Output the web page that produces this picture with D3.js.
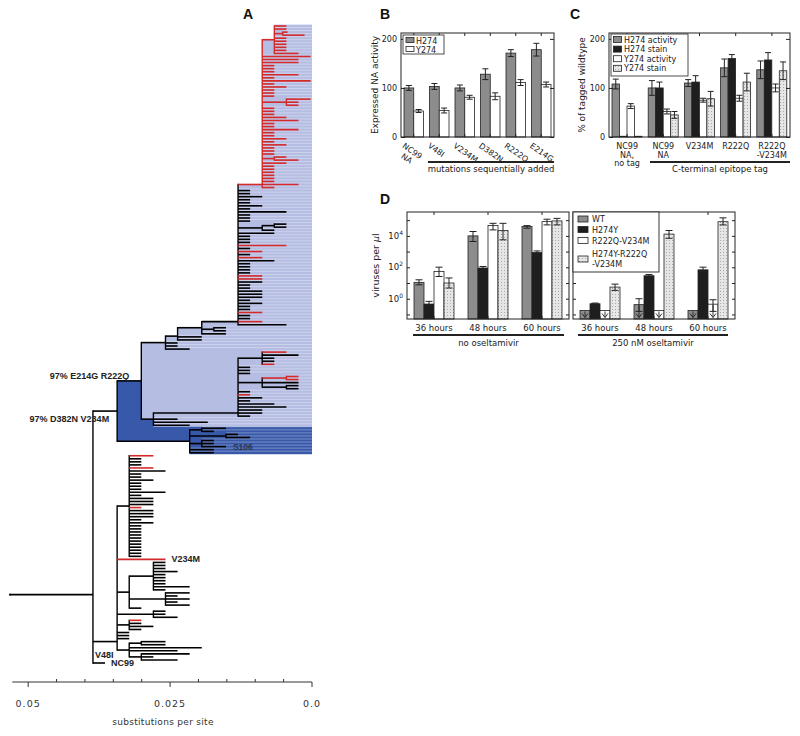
<!DOCTYPE html>
<html><head><meta charset="utf-8">
<script src="https://cdn.jsdelivr.net/npm/d3@7"></script>
<style>body{margin:0;background:#fff}svg{display:block;background:#fff}</style>
</head><body>
<svg id="c" width="800" height="736"></svg>
<script>
// ================= DATA =================
// ---- Panel A: phylogenetic tree ----
// branch lengths in steps of STEP substitutions/site; a string ending in "r" = red leaf
const STEP = 0.00213;
const ROOT_POS = 0.0532;              // root position on the substitutions axis
const axisMajor = [0.05, 0.025, 0.0];
const axisMinor = [0.045, 0.04, 0.035, 0.03, 0.02, 0.015, 0.01, 0.005];

const cladeT = {b:1, red:true, c:["1r","1r",{b:0.7,red:true,c:["0.4r","1.8r"]},"1r","1r","1r","1r","1r","2r"]};
const cladeR = {b:2, red:true, lad:true, c:[cladeT,"4r","3r","3r","1r","1r","1r","3r","1r","4r","1r","2r","1r","1r","1r",
  {b:2,red:true,c:["2r","1r","1r"]},"1r","1r","1r","2r","3r","1r","1r","3r","1r","1r","2r","1r","2r","1r","1r","1r",
  {b:1,red:true,c:["1r","2r"]},"2r","1r","1r","1r","1r","1r","1r","3r","1r"]};
const cladeM = {b:3, lad:true, c:[cladeR,1,1,2,1,1,2,1,4,1,1,1,{b:2,c:[{b:1,c:[1,1]},1]},3,1,1,1,"4r",1,"2r",1,"2r",3,
  1,1,1,1,"2r","2r",2,1,1,2,2,2,1,2,1,1,"2r",1,1,"2r",4]};
const cladeN202 = {b:2, c:[cladeM,{b:1,c:[1,1]},2]};
const cladeN178 = {b:1, lad:true, c:[cladeN202,2,2]};
const cladeN166 = {b:2, c:[cladeN178,1,1,2]};
const cladeQ = {b:7, lad:true, c:[{b:2,c:["2r",3,1,1,"1r"]},1,1,1,{b:2,c:[{b:2,red:true,c:["1r","1r"]},3,{b:2,c:[1,1]}]},
  1,"1r",2,1,3,4,2,2,1]};
const cladeN153 = {b:1, c:[cladeQ,2,4.5,3]};
const cladeL = {b:2, shade:"light", lab:"97% E214G R222Q", c:[cladeN166,cladeN153]};
const cladeS = {b:6, c:[{b:1,c:[2,1]},{b:3,c:[1,2]},{b:1,c:[1,1,{b:2,lab:"S106"}]},2,2]};
const cladeD = {b:2, shade:"dark", lab:"97% D382N V234M", c:[cladeL,cladeS]};
const cladeC1 = {b:1, c:["2r",1,1,1,"2r",3,1,1,2,1,1,1,3,1,2,2,2,"1r",2,2,2,1,2,1,1,1,1,1,1,1,1,1,1,1]};
const cladeC2 = {b:1, c:[{b:2,c:[1,1,1,2,1,1,1,1,3,1]},{b:3,c:[2,1,2,1,2]},1]};
const cladeC3 = {b:3, c:[1,1,2]};
const cladeC4 = {b:1, c:["1r",1,2,1]};
const cladeC5 = {b:1, c:[{b:1,c:[2,2]},6,4,{b:1,c:[4,1,3]}]};
const cladeB = {b:2, lad:true, c:[cladeC1,{b:4,red:true,lab:"V234M"},cladeC2,cladeC3,cladeC4,1,1,1,cladeC5]};
const treeRoot = {b:0, c:[{b:6.86, lad:true, c:[cladeD,cladeB,{b:1,lab:"NC99"}]}]};

// ---- Panel B ----
const bGroups = ["NC99 NA","V48I","V234M","D382N","R222Q","E214G"];
const bLabels = [["NC99","NA"],["V48I"],["V234M"],["D382N"],["R222Q"],["E214G"]];
const bSeries = ["H274","Y274"];
const bH274 = [100,103,100,128,171,178];
const bH274err = [5,6,6,11,7,13];
const bY274 = [53,54,81,83,111,107];
const bY274err = [3,5,4,7,6,5];
const bTicks = [0,100,200];

// ---- Panel C ----
const cGroups = ["NC99 NA, no tag","NC99 NA","V234M","R222Q","R222Q-V234M"];
const cLabels = [["NC99","NA,","no tag"],["NC99","NA"],["V234M"],["R222Q"],["R222Q","-V234M"]];
const cSeries = ["H274 activity","H274 stain","Y274 activity","Y274 stain"];
const cH274act = [108,100,110,141,137];
const cH274actErr = [10,15,7,18,18];
const cH274stain = [1.5,100,112,160,157];
const cH274stainErr = [0,12,13,8,15];
const cY274act = [63,52,75,79,100];
const cY274actErr = [5,5,4,6,8];
const cY274stain = [1.5,45,78,112,135];
const cY274stainErr = [0,7,15,18,18];
const cTicks = [0,100,200];

// ---- Panel D ----
const dTimes = ["36 hours","48 hours","60 hours"];
const dSeries = ["WT","H274Y","R222Q-V234M","H274Y-R222Q-V234M"];
const dLegend = [["WT"],["H274Y"],["R222Q-V234M"],["H274Y-R222Q","-V234M"]];
const noWT = [11, 1.0e4, 3.9e4];
const noWTerr = [[7.7,16],[4.4e3,1.9e4],[3.1e4,4.5e4]];
const noH274Y = [0.46, 90, 870];
const noH274Yerr = [[0.33,0.68],[69,113],[720,1100]];
const noRV = [55, 4.6e4, 8.1e4];
const noRVerr = [[26,102],[2.4e4,6.3e4],[5e4,1.15e5]];
const noHRV = [10, 2.2e4, 9.0e4];
const noHRVerr = [[4.8,21],[5.6e3,6.3e4],[5e4,1.3e5]];
const drWT = [0.18, 0.42, 0.18];
const drWTerr = [null,[0.157,1.0],null];
const drH274Y = [0.48, 29, 69];
const drH274Yerr = [[0.44,0.53],[24,35],[54,102]];
const drRV = [0.18, 0.18, 0.45];
const drRVerr = [null,null,[0.157,0.86]];
const drHRV = [5.5, 1.3e4, 8.0e4];
const drHRVerr = [[3.4,8.5],[7e3,2.2e4],[5e4,1.4e5]];
const drBelowLimit = [[true,true,true],[false,false,false],[true,true,true],[false,false,false]];
const dDecades = [0.1,1,10,100,1e3,1e4,1e5];
const dLabeled = [[1,"0"],[100,"2"],[1e4,"4"]];

// ================= DRAWING =================
const svg = d3.select('#c');
const FONT = "'DejaVu Sans', sans-serif";
const ARIAL = "'Liberation Sans', Arial, sans-serif";
const GRAY = '#8c8c8c', BLACKBAR = '#1e1e1e', RED = '#d42a2a';
const LIGHT = '#b5bde3', DARK = '#3859aa';

const defs = svg.append('defs');
const pat = defs.append('pattern').attr('id','dots').attr('width',3).attr('height',3).attr('patternUnits','userSpaceOnUse');
pat.append('rect').attr('width',3).attr('height',3).attr('fill','#e6e6e6');
pat.append('rect').attr('width',1).attr('height',1).attr('fill','#a8a8a8');

function panelLetter(t,x,y){
  svg.append('text').attr('x',x).attr('y',y).attr('font-family',ARIAL).attr('font-weight','bold')
    .attr('font-size',14).attr('fill','#111').text(t);
}
function errBar(g,cx,y1,y2,cw){
  g.append('line').attr('x1',cx).attr('x2',cx).attr('y1',y1).attr('y2',y2).attr('stroke','#222').attr('stroke-width',1);
  [y1,y2].forEach(yy=>g.append('line').attr('x1',cx-cw/2).attr('x2',cx+cw/2).attr('y1',yy).attr('y2',yy)
    .attr('stroke','#222').attr('stroke-width',1));
}
function styleAxis(sel){
  sel.select('.domain').remove();
  sel.selectAll('line').attr('stroke','#222');
  sel.selectAll('text').attr('font-family',FONT).attr('font-size',8).attr('fill','#222');
}
function frame(g,L,T,R,B){
  g.append('rect').attr('x',L).attr('y',T).attr('width',R-L).attr('height',B-T)
   .attr('fill','none').attr('stroke','#222').attr('stroke-width',1);
}
function underline(g,x1,x2,y,label,ty){
  g.append('line').attr('x1',x1).attr('x2',x2).attr('y1',y).attr('y2',y).attr('stroke','#222').attr('stroke-width',2);
  g.append('text').attr('x',(x1+x2)/2).attr('y',ty).attr('text-anchor','middle').attr('font-family',FONT)
   .attr('font-size',8.5).attr('fill','#222').text(label);
}

// ---------- Panel A ----------
(function(){
  const g = svg.append('g');
  function norm(n){
    if (typeof n === 'number') return {len:n, red:false, kids:[]};
    if (typeof n === 'string') return {len:parseFloat(n), red:n.endsWith('r'), kids:[]};
    return {len:n.b, red:!!n.red, lad:!!n.lad, lab:n.lab, shade:n.shade, kids:(n.c||[]).map(norm)};
  }
  const root = norm(treeRoot);
  const leaves = [], nodes = [];
  (function walk(n,d,p,shade){
    n.depth = d + n.len*STEP; n.parent = p; n.shadeC = n.shade || shade;
    nodes.push(n); if(!n.kids.length) leaves.push(n);
    n.kids.forEach(k=>walk(k,n.depth,n,n.shadeC));
  })(root,0,null,null);
  const rowY = d3.scaleLinear().domain([0,leaves.length-1]).range([26,663]);
  const rowH = rowY(1)-rowY(0);
  leaves.forEach((l,i)=>l.y=rowY(i));
  (function setY(n){
    if(!n.kids.length) return n.y;
    n.kids.forEach(setY);
    if(n.lad){ let y=n.kids[0].y; for(let i=1;i<n.kids.length;i++) y=(y+n.kids[i].y)/2; n.y=y; }
    else n.y=(n.kids[0].y+n.kids[n.kids.length-1].y)/2;
    return n.y;
  })(root);
  const xT = d3.scaleLinear().domain([ROOT_POS,0]).range([10,312]);
  nodes.forEach(n=>n.x=xT(ROOT_POS-n.depth));
  const right = xT(0);

  // shading (dark first, then light on top)
  ['dark','light'].forEach(sh=>{
    nodes.filter(n=>n.kids.length && n.shadeC===sh).forEach(n=>{
      const f=n.kids[0], l=n.kids[n.kids.length-1];
      const top = f.kids.length ? f.y : f.y-rowH/2;
      const bot = l.kids.length ? l.y : l.y+rowH/2;
      g.append('rect').attr('x',n.x).attr('y',top).attr('width',right-n.x).attr('height',bot-top)
        .attr('fill', sh==='dark'?DARK:LIGHT);
    });
  });
  // pale row separators
  leaves.filter(l=>l.shadeC).forEach(l=>{
    g.append('line').attr('x1',l.parent.x).attr('x2',right).attr('y1',l.y-rowH/2).attr('y2',l.y-rowH/2)
      .attr('stroke','#fff').attr('stroke-opacity',0.55).attr('stroke-width',0.6);
  });
  // branches
  nodes.forEach(n=>{
    const col = n.red?RED:'#000';
    if(n.parent) g.append('line').attr('x1',n.parent.x).attr('x2',n.x).attr('y1',n.y).attr('y2',n.y)
      .attr('stroke',col).attr('stroke-width',1.6);
    if(n.kids.length>1) g.append('line').attr('x1',n.x).attr('x2',n.x)
      .attr('y1',n.kids[0].y).attr('y2',n.kids[n.kids.length-1].y)
      .attr('stroke',col).attr('stroke-width',1.4).attr('stroke-linecap','square');
  });
  g.append('circle').attr('cx',root.x).attr('cy',root.y).attr('r',1.1).attr('fill','#000');

  // labels
  nodes.filter(n=>n.lab).forEach(n=>{
    if(n.kids.length){
      const isD = n.shade==='dark';
      g.append('text').attr('x',n.x-(isD?8:12)).attr('y',isD?n.y+11:n.y-2).attr('text-anchor','end')
        .attr('font-family',ARIAL).attr('font-weight','bold').attr('font-size',9).attr('fill','#222').text(n.lab);
    } else {
      const isS = n.lab==='S106';
      g.append('text').attr('x',n.x+(isS?7:6)).attr('y',n.y+3).attr('font-family',ARIAL).attr('font-weight','bold')
        .attr('font-size',isS?8.5:9).attr('fill',isS?'#2a3352':'#222').text(n.lab);
    }
  });
  const nc = leaves[leaves.length-1];
  g.append('text').attr('x',nc.parent.x+2).attr('y',nc.y-5).attr('font-family',ARIAL).attr('font-weight','bold')
    .attr('font-size',9).attr('fill','#222').text('V48I');

  // axis
  const ay = 682;
  g.append('line').attr('x1',xT(0.0528)).attr('x2',right).attr('y1',ay).attr('y2',ay).attr('stroke','#333').attr('stroke-width',1);
  axisMajor.forEach(v=>{
    g.append('line').attr('x1',xT(v)).attr('x2',xT(v)).attr('y1',ay).attr('y2',ay+5).attr('stroke','#333');
    g.append('text').attr('x',xT(v)).attr('y',707).attr('text-anchor','middle').attr('font-family',FONT)
      .attr('font-size',9.5).attr('letter-spacing',1).attr('fill','#333').text(v===0?'0.0':String(v));
  });
  axisMinor.forEach(v=>g.append('line').attr('x1',xT(v)).attr('x2',xT(v)).attr('y1',ay).attr('y2',ay-3).attr('stroke','#333'));
  g.append('text').attr('x',163).attr('y',725).attr('text-anchor','middle').attr('font-family',FONT)
    .attr('font-size',9).attr('letter-spacing',0.3).attr('fill','#333').text('substitutions per site');
  panelLetter('A',243,19);
})();

// ---------- Panel B ----------
(function(){
  const L=401,R=554,T=33,B=137;
  const g = svg.append('g');
  const x = d3.scaleBand().domain(bGroups).range([L,R]);
  const xi = d3.scaleBand().domain(bSeries).range([3,22.5]);
  const y = d3.scaleLinear().domain([0,212]).range([B,T]);
  const vals=[bH274,bY274], errs=[bH274err,bY274err], fills=[GRAY,'#fff'];
  bSeries.forEach((s,si)=>bGroups.forEach((gn,i)=>{
    const bx=x(gn)+xi(s), w=xi.bandwidth(), v=vals[si][i];
    g.append('rect').attr('x',bx).attr('y',y(v)).attr('width',w).attr('height',y(0)-y(v))
      .attr('fill',fills[si]).attr('stroke','#222').attr('stroke-width',0.8);
    errBar(g,bx+w/2,y(v-errs[si][i]),y(v+errs[si][i]),6);
  }));
  g.append('g').attr('transform',`translate(${L},0)`).call(d3.axisLeft(y).tickValues(bTicks).tickSize(-4).tickPadding(4)).call(styleAxis);
  g.append('g').attr('transform',`translate(${R},0)`).call(d3.axisRight(y).tickValues(bTicks).tickSize(-4).tickFormat('')).call(styleAxis);
  g.append('g').attr('transform',`translate(0,${T})`).call(d3.axisTop(x).tickSize(-3).tickFormat('')).call(styleAxis);
  g.append('g').attr('transform',`translate(0,${B})`).call(d3.axisBottom(x).tickSize(-3).tickFormat('')).call(styleAxis);
  frame(g,L,T,R,B);
  g.append('text').attr('transform',`translate(378,${(T+B)/2}) rotate(-90)`).attr('text-anchor','middle')
    .attr('font-family',FONT).attr('font-size',9).attr('fill','#222').text('Expressed NA activity');
  bLabels.forEach((lines,i)=>{
    const cx = x(bGroups[i])+x.bandwidth()/2;
    const t = g.append('text').attr('transform',`translate(${cx-12},147) rotate(35)`)
      .attr('font-family',FONT).attr('font-size',8).attr('fill','#222');
    lines.forEach((ln,j)=>t.append('tspan').attr('x',j?5:0).attr('dy',j?'1.15em':0).text(ln));
  });
  underline(g,428,R,162,'mutations sequentially added',172);
  // legend
  g.append('rect').attr('x',403).attr('y',35).attr('width',41).attr('height',19).attr('fill','#fff').attr('stroke','#222').attr('stroke-width',0.8);
  bSeries.forEach((s,i)=>{
    g.append('rect').attr('x',406).attr('y',37.5+i*9).attr('width',8).attr('height',5).attr('fill',fills[i]).attr('stroke','#222').attr('stroke-width',0.8);
    g.append('text').attr('x',416).attr('y',43.5+i*9).attr('font-family',FONT).attr('font-size',8).attr('fill','#222').text(s);
  });
  panelLetter('B',380,19);
})();

// ---------- Panel C ----------
(function(){
  const L=609,R=790,T=33,B=137;
  const g = svg.append('g');
  const x = d3.scaleBand().domain(cGroups).range([L,R]);
  const xi = d3.scaleBand().domain(cSeries).range([3,33]);
  const y = d3.scaleLinear().domain([0,212]).range([B,T]);
  const vals=[cH274act,cH274stain,cY274act,cY274stain];
  const errs=[cH274actErr,cH274stainErr,cY274actErr,cY274stainErr];
  const fills=[GRAY,BLACKBAR,'#fff','url(#dots)'];
  cSeries.forEach((s,si)=>cGroups.forEach((gn,i)=>{
    const bx=x(gn)+xi(s), w=xi.bandwidth(), v=vals[si][i];
    g.append('rect').attr('x',bx).attr('y',y(v)).attr('width',w).attr('height',y(0)-y(v))
      .attr('fill',fills[si]).attr('stroke','#222').attr('stroke-width',0.8);
    if(errs[si][i]>0) errBar(g,bx+w/2,y(v-errs[si][i]),y(v+errs[si][i]),6);
  }));
  g.append('g').attr('transform',`translate(${L},0)`).call(d3.axisLeft(y).tickValues(cTicks).tickSize(-4).tickPadding(4)).call(styleAxis);
  g.append('g').attr('transform',`translate(${R},0)`).call(d3.axisRight(y).tickValues(cTicks).tickSize(-4).tickFormat('')).call(styleAxis);
  g.append('g').attr('transform',`translate(0,${T})`).call(d3.axisTop(x).tickSize(-3).tickFormat('')).call(styleAxis);
  g.append('g').attr('transform',`translate(0,${B})`).call(d3.axisBottom(x).tickSize(-3).tickFormat('')).call(styleAxis);
  frame(g,L,T,R,B);
  g.append('text').attr('transform',`translate(585,${(T+B)/2}) rotate(-90)`).attr('text-anchor','middle')
    .attr('font-family',FONT).attr('font-size',9).attr('fill','#222').text('% of tagged wildtype');
  cLabels.forEach((lines,i)=>{
    const cx = x(cGroups[i])+x.bandwidth()/2;
    lines.forEach((ln,j)=>g.append('text').attr('x',cx).attr('y',149+j*8.6).attr('text-anchor','middle')
      .attr('font-family',FONT).attr('font-size',8).attr('fill','#222').text(ln));
  });
  underline(g,650,R,162,'C-terminal epitope tag',172);
  g.append('rect').attr('x',611).attr('y',34).attr('width',77).attr('height',42).attr('fill','#fff').attr('stroke','#222').attr('stroke-width',0.8);
  cSeries.forEach((s,i)=>{
    g.append('rect').attr('x',613.5).attr('y',36.5+i*9.6).attr('width',8).attr('height',6).attr('fill',fills[i]).attr('stroke','#222').attr('stroke-width',0.8);
    g.append('text').attr('x',624).attr('y',42.5+i*9.6).attr('font-family',FONT).attr('font-size',8).attr('fill','#222').text(s);
  });
  panelLetter('C',570,19);
})();

// ---------- Panel D ----------
(function(){
  const T=212,B=319;
  const g = svg.append('g');
  const y = d3.scaleLog().domain([Math.pow(10,-1.29),Math.pow(10,5.52)]).range([B,T]);
  const fills=[GRAY,BLACKBAR,'#fff','url(#dots)'];
  const subs = [
    {L:407,R:569,vals:[noWT,noH274Y,noRV,noHRV],errs:[noWTerr,noH274Yerr,noRVerr,noHRVerr],below:null,label:'no oseltamivir',ul:[413,564]},
    {L:573,R:735,vals:[drWT,drH274Y,drRV,drHRV],errs:[drWTerr,drH274Yerr,drRVerr,drHRVerr],below:drBelowLimit,label:'250 nM oseltamivir',ul:[578,728]}
  ];
  subs.forEach((sp,k)=>{
    const x = d3.scaleBand().domain(dTimes).range([sp.L,sp.R]);
    const xi = d3.scaleBand().domain(dSeries).range([7,47]);
    dSeries.forEach((s,si)=>dTimes.forEach((tm,i)=>{
      const bx=x(tm)+xi(s), w=xi.bandwidth(), v=sp.vals[si][i], e=sp.errs[si][i];
      g.append('rect').attr('x',bx).attr('y',y(v)).attr('width',w).attr('height',B-y(v))
        .attr('fill',fills[si]).attr('stroke','#222').attr('stroke-width',0.8);
      if(e) errBar(g,bx+w/2,y(e[0]),y(e[1]),7);
      if(sp.below && sp.below[si][i]){
        const cx=bx+w/2, y1=y(v)+1, y2=B-1.5;
        g.append('line').attr('x1',cx).attr('x2',cx).attr('y1',y1).attr('y2',y2).attr('stroke','#222').attr('stroke-width',0.9);
        g.append('path').attr('d',`M${cx-3},${y2-4}L${cx},${y2}L${cx+3},${y2-4}`).attr('fill','none').attr('stroke','#222').attr('stroke-width',0.9);
      }
    }));
    g.append('g').attr('transform',`translate(${sp.L},0)`).call(d3.axisLeft(y).tickValues(dDecades).tickSize(-3).tickFormat('')).call(styleAxis);
    g.append('g').attr('transform',`translate(${sp.R},0)`).call(d3.axisRight(y).tickValues(dDecades).tickSize(-3).tickFormat('')).call(styleAxis);
    g.append('g').attr('transform',`translate(0,${T})`).call(d3.axisTop(x).tickSize(-3).tickFormat('')).call(styleAxis);
    g.append('g').attr('transform',`translate(0,${B})`).call(d3.axisBottom(x).tickSize(-3).tickFormat('')).call(styleAxis);
    frame(g,sp.L,T,sp.R,B);
    dTimes.forEach(tm=>g.append('text').attr('x',x(tm)+x.bandwidth()/2).attr('y',331).attr('text-anchor','middle')
      .attr('font-family',FONT).attr('font-size',8.5).attr('fill','#222').text(tm));
    underline(g,sp.ul[0],sp.ul[1],335,sp.label,346);
  });
  dLabeled.forEach(([v,ex])=>{
    const t=g.append('text').attr('x',403).attr('y',y(v)+3).attr('text-anchor','end').attr('font-family',FONT)
      .attr('font-size',8.5).attr('fill','#222');
    t.append('tspan').text('10');
    t.append('tspan').attr('dy',-4).attr('font-size',6).text(ex);
  });
  const yl = g.append('text').attr('transform',`translate(379,${(T+B)/2}) rotate(-90)`).attr('text-anchor','middle')
    .attr('font-family',FONT).attr('font-size',9.5).attr('fill','#222');
  yl.append('tspan').text('viruses per ');
  yl.append('tspan').attr('font-style','italic').text('μ');
  yl.append('tspan').text('l');
  // legend
  g.append('rect').attr('x',573).attr('y',212).attr('width',86).attr('height',60).attr('fill','#fff').attr('stroke','#222').attr('stroke-width',0.9);
  const ly=[219,229.5,240.5,259];
  dLegend.forEach((lines,i)=>{
    g.append('rect').attr('x',578).attr('y',ly[i]-3).attr('width',10).attr('height',6).attr('fill',fills[i]).attr('stroke','#222').attr('stroke-width',0.8);
    lines.forEach((ln,j)=>g.append('text').attr('x',592).attr('y',ly[i]+3+(lines.length>1?(j-0.5)*10.5:0))
      .attr('font-family',FONT).attr('font-size',8).attr('fill','#222').text(ln));
  });
  panelLetter('D',380,204);
})();
</script>
</body></html>
